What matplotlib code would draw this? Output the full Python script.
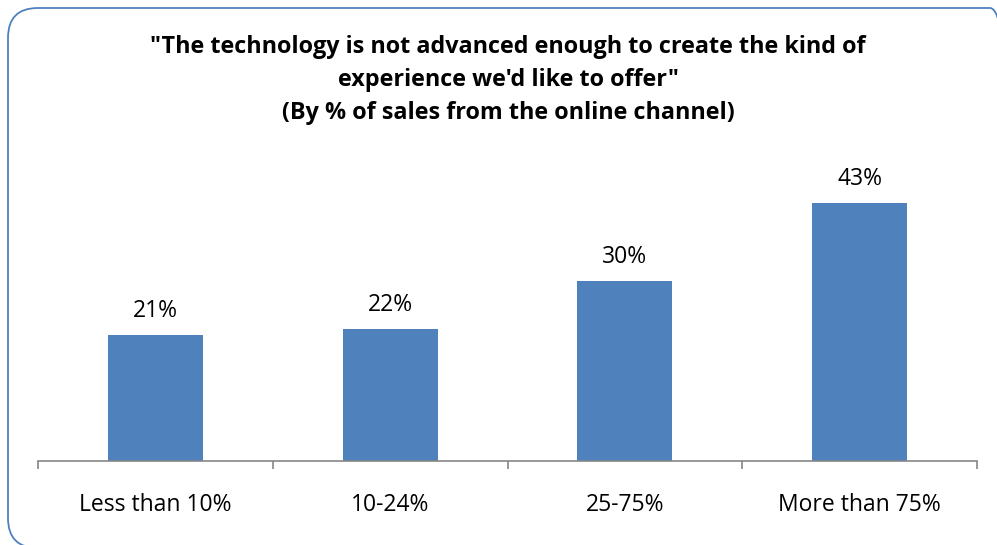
import matplotlib.pyplot as plt
from matplotlib.patches import FancyBboxPatch

categories = ['Less than 10%', '10-24%', '25-75%', 'More than 75%']
values = [21, 22, 30, 43]
title = ('"The technology is not advanced enough to create the kind of\n'
         'experience we\'d like to offer"\n'
         '(By % of sales from the online channel)')

bar_color = '#4F81BD'
axis_color = '#868686'

fig = plt.figure(figsize=(9.97, 5.45), dpi=100)
W, H = 997, 545

# rounded chart frame (runs slightly past the right and bottom edges)
frame = FancyBboxPatch((8 / W, -3 / H), 1012 / W, 540 / H,
                       boxstyle='round,pad=0,rounding_size=0.03',
                       transform=fig.transFigure, fill=False,
                       edgecolor='#4F81BD', linewidth=1.3,
                       mutation_aspect=W / H)
fig.patches.append(frame)

ax = fig.add_axes([38 / W, 84 / H, 939 / W, 300 / H])
x = range(len(categories))
bars = ax.bar(x, values, width=0.405, color=bar_color, zorder=2)
for b, v in zip(bars, values):
    ax.text(b.get_x() + b.get_width() / 2, v + 4.0, f'{v}%',
            ha='center', va='center', fontsize=16.5, family='Open Sans')

ax.set_xlim(-0.5, len(categories) - 0.5)
ax.set_ylim(0, 50)
for s in ['top', 'right', 'left']:
    ax.spines[s].set_visible(False)
ax.spines['bottom'].set_color(axis_color)
ax.spines['bottom'].set_linewidth(1.2)
ax.set_yticks([])

# category boundaries get the tick marks
ax.set_xticks([i - 0.5 for i in range(len(categories) + 1)])
ax.set_xticklabels([])
ax.tick_params(axis='x', length=6, width=1.2, color=axis_color, direction='out')
ax.set_xticks(list(x), minor=True)
ax.set_xticklabels(categories, minor=True, fontsize=16.5, family='Open Sans')
ax.tick_params(axis='x', which='minor', length=0, pad=23)

fig.text(508 / W, 1 - 80 / H, title, ha='center', va='center',
         fontsize=16.8, fontweight='bold', family='Open Sans', linespacing=1.52)

fig.savefig('out.png', dpi=100)
